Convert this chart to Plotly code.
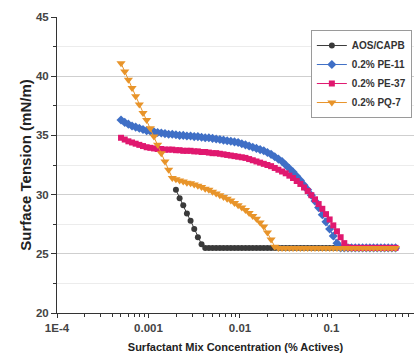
import plotly.graph_objects as go

# Concentration (% actives), log-spaced dilution series
conc = [0.000501, 0.000550, 0.000603, 0.000661, 0.000724, 0.000794, 0.000871, 0.000955,
        0.001047, 0.001148, 0.001259, 0.001380, 0.001514, 0.001660, 0.001820, 0.001995,
        0.002188, 0.002399, 0.002630, 0.002884, 0.003162, 0.003467, 0.003802, 0.004169,
        0.004571, 0.005012, 0.005495, 0.006026, 0.006607, 0.007244, 0.007943, 0.008710,
        0.009550, 0.01047, 0.01148, 0.01259, 0.01380, 0.01514, 0.01660, 0.01820,
        0.01995, 0.02188, 0.02399, 0.02630, 0.02884, 0.03162, 0.03467, 0.03802,
        0.04169, 0.04571, 0.05012, 0.05495, 0.06026, 0.06607, 0.07244, 0.07943,
        0.08710, 0.09550, 0.1047, 0.1148, 0.1259, 0.1380, 0.1514, 0.1660,
        0.1820, 0.1995, 0.2188, 0.2399, 0.2630, 0.2884, 0.3162, 0.3467,
        0.3802, 0.4169, 0.4571, 0.5012]

# AOS/CAPB starts at 0.002 (index 15)
aos_conc = conc[15:]
aos_st = [30.4, 29.7, 29.1, 28.4, 27.8, 27.1, 26.4, 25.8, 25.5, 25.5,
          25.5, 25.5, 25.5, 25.5, 25.5, 25.5, 25.5, 25.5, 25.5, 25.5,
          25.5, 25.5, 25.5, 25.5, 25.5, 25.5, 25.5, 25.5, 25.5, 25.5,
          25.5, 25.5, 25.5, 25.5, 25.5, 25.5, 25.5, 25.5, 25.5, 25.5,
          25.5, 25.5, 25.5, 25.5, 25.5, 25.5, 25.5, 25.5, 25.5, 25.5,
          25.5, 25.5, 25.5, 25.5, 25.5, 25.5, 25.5, 25.5, 25.5, 25.5, 25.5]

pe11_st = [36.3, 36.1, 35.95, 35.8, 35.7, 35.6, 35.5, 35.4, 35.35, 35.3,
           35.25, 35.2, 35.15, 35.1, 35.1, 35.05, 35.0, 35.0, 34.95, 34.95,
           34.9, 34.9, 34.85, 34.8, 34.8, 34.75, 34.7, 34.65, 34.6, 34.55,
           34.5, 34.45, 34.4, 34.3, 34.2, 34.1, 34.0, 33.9, 33.8, 33.7,
           33.55, 33.4, 33.2, 33.0, 32.8, 32.5, 32.2, 31.9, 31.55, 31.2,
           30.8, 30.4, 29.95, 29.45, 28.9, 28.3, 27.7, 27.1, 26.5, 25.9,
           25.5, 25.5, 25.5, 25.5, 25.5, 25.5, 25.5, 25.5, 25.5, 25.5,
           25.5, 25.5, 25.5, 25.5, 25.5, 25.5]

pe37_st = [34.8, 34.65, 34.5, 34.4, 34.3, 34.2, 34.1, 34.0, 33.95, 33.9,
           33.85, 33.85, 33.8, 33.8, 33.8, 33.75, 33.75, 33.7, 33.7, 33.7,
           33.65, 33.65, 33.6, 33.6, 33.55, 33.5, 33.5, 33.45, 33.4, 33.35,
           33.3, 33.25, 33.2, 33.15, 33.1, 33.0, 32.9, 32.8, 32.7, 32.6,
           32.5, 32.4, 32.25, 32.1, 31.95, 31.8, 31.6, 31.4, 31.15, 30.9,
           30.6, 30.3, 29.95, 29.6, 29.2, 28.8, 28.35, 27.9, 27.4, 26.9,
           26.4, 25.9, 25.55, 25.5, 25.5, 25.5, 25.5, 25.5, 25.5, 25.5,
           25.5, 25.5, 25.5, 25.5, 25.5, 25.5]

pq7_st = [41.1, 40.4, 39.7, 39.0, 38.3, 37.6, 36.9, 36.3, 35.6, 34.9,
          34.2, 33.5, 32.8, 32.1, 31.4, 31.3, 31.2, 31.1, 31.0, 30.95,
          30.85, 30.75, 30.65, 30.5, 30.4, 30.25, 30.1, 29.95, 29.8, 29.65,
          29.5, 29.3, 29.1, 28.9, 28.7, 28.45, 28.2, 27.95, 27.65, 27.3,
          26.8, 26.2, 25.6, 25.5, 25.5, 25.5, 25.5, 25.5, 25.5, 25.5,
          25.5, 25.5, 25.5, 25.5, 25.5, 25.5, 25.5, 25.5, 25.5, 25.5,
          25.5, 25.5, 25.5, 25.5, 25.5, 25.5, 25.5, 25.5, 25.5, 25.5,
          25.5, 25.5, 25.5, 25.5, 25.5, 25.5]

names = ["AOS/CAPB", "0.2% PE-11", "0.2% PE-37", "0.2% PQ-7"]
colors = ["#3a3a3a", "#3f6fc6", "#e0186f", "#e8942a"]
symbols = ["circle", "diamond", "square", "triangle-down"]
sizes = [6, 7, 6, 8]

x_tickvals = [1e-4, 1e-3, 1e-2, 1e-1]
x_ticktext = ["1E-4", "0.001", "0.01", "0.1"]
y_tickvals = [20, 25, 30, 35, 40, 45]

series = [(aos_conc, aos_st), (conc, pe11_st), (conc, pe37_st), (conc, pq7_st)]

fig = go.Figure()
for (xs, ys), n, c, s, sz in zip(series, names, colors, symbols, sizes):
    fig.add_trace(go.Scatter(
        x=xs, y=ys, name=n, mode="lines+markers",
        line=dict(color=c, width=1),
        marker=dict(color=c, symbol=s, size=sz, line=dict(width=0)),
    ))

minor_x = [m * 10 ** e for e in range(-4, 0) for m in range(2, 10)]

font_family = "Liberation Sans, Arial, sans-serif"
fig.update_layout(
    width=414, height=360,
    margin=dict(l=57, r=0, t=17, b=47),
    paper_bgcolor="white", plot_bgcolor="white",
    font=dict(family=font_family, color="#333333"),
    showlegend=True,
    legend=dict(
        x=0.994, y=0.956, xanchor="right", yanchor="top",
        bgcolor="white", bordercolor="#9a9a9a", borderwidth=1,
        font=dict(size=10, weight="bold", color="#333333"),
        tracegroupgap=0, itemwidth=30,
    ),
    xaxis=dict(
        type="log", range=[-4, -0.098],
        tickmode="array", tickvals=x_tickvals, ticktext=x_ticktext,
        ticks="outside", ticklen=4, tickwidth=1, tickcolor="#333333",
        showline=True, linecolor="#333333", linewidth=1,
        showgrid=False, zeroline=False,
        tickfont=dict(size=11.5, weight="bold", color="#444444"),
        minor=dict(tickmode="array", tickvals=minor_x, ticks="outside",
                   ticklen=3, tickcolor="#333333", showgrid=False),
        title=dict(text="Surfactant Mix Concentration (% Actives)",
                   font=dict(size=11, weight="bold", color="#222222"),
                   standoff=10),
    ),
    yaxis=dict(
        range=[20, 45],
        tickmode="array", tickvals=y_tickvals,
        ticks="outside", ticklen=5, tickwidth=1, tickcolor="#333333",
        showline=True, linecolor="#333333", linewidth=1,
        showgrid=True, gridcolor="#cfcfcf", gridwidth=1,
        zeroline=False,
        tickfont=dict(size=11.5, weight="bold", color="#444444"),
        minor=dict(dtick=2.5, tick0=20, ticks="outside", ticklen=3,
                   tickcolor="#333333", showgrid=True,
                   gridcolor="#ececec", gridwidth=1),
        title=dict(text="Surface Tension (mN/m)",
                   font=dict(size=15, weight="bold", color="#222222"),
                   standoff=0),
    ),
)

fig.write_html("out.html", config={"displayModeBar": False},
               post_script="document.body.style.margin='0';")
